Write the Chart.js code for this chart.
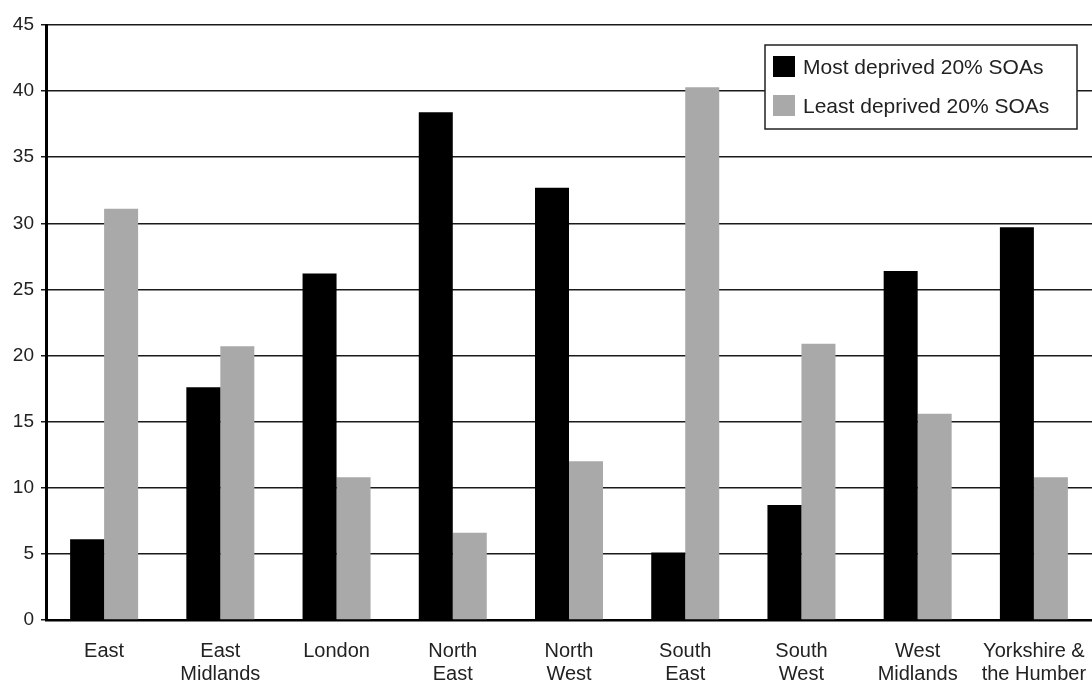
<!DOCTYPE html>
<html>
<head>
<meta charset="utf-8">
<script src="https://cdn.jsdelivr.net/npm/chart.js@4/dist/chart.umd.min.js"></script>
<style>
  html, body { margin: 0; padding: 0; background: #fff; overflow: hidden; }
  #wrap { width: 1092px; height: 684px; position: relative; }
</style>
</head>
<body>
<div id="wrap"><canvas id="chart"></canvas></div>
<script>
// regions, two lines each for the axis labels
const regions = [
    ["East"], ["East", "Midlands"], ["London"], ["North", "East"], ["North", "West"],
    ["South", "East"], ["South", "West"], ["West", "Midlands"], ["Yorkshire &", "the Humber"]
];
const mostDeprived = [6.1, 17.6, 26.2, 38.4, 32.7, 5.1, 8.7, 26.4, 29.7];
const leastDeprived = [31.1, 20.7, 10.8, 6.6, 12.0, 40.3, 20.9, 15.6, 10.8];
const seriesNames = ["Most deprived 20% SOAs", "Least deprived 20% SOAs"];

const FONT = "'Liberation Sans', Arial, sans-serif";

// legend box drawn inside the plot, top right
const boxLegend = {
    id: "boxLegend",
    afterDraw(chart) {
        const ctx = chart.ctx;
        const x = 765, y = 45, w = 312, h = 84;
        ctx.save();
        ctx.fillStyle = "#fff";
        ctx.fillRect(x, y, w, h);
        ctx.strokeStyle = "#222";
        ctx.lineWidth = 1.5;
        ctx.strokeRect(x, y, w, h);
        ctx.font = "21px " + FONT;
        ctx.textBaseline = "middle";
        chart.data.datasets.forEach((ds, i) => {
            const rowY = y + 22 + i * 39;
            ctx.fillStyle = ds.backgroundColor;
            ctx.fillRect(x + 8, rowY - 11, 22, 21);
            ctx.fillStyle = "#222";
            ctx.fillText(ds.label, x + 38, rowY + 1);
        });
        ctx.restore();
    }
};

new Chart(document.getElementById("chart"), {
    type: "bar",
    data: {
        labels: regions,
        datasets: [
            { label: seriesNames[0], data: mostDeprived, backgroundColor: "#000" },
            { label: seriesNames[1], data: leastDeprived, backgroundColor: "#a9a9a9" }
        ]
    },
    options: {
        responsive: true,
        maintainAspectRatio: false,
        animation: false,
        layout: { padding: { top: 25, right: 0, left: 0, bottom: 0 } },
        datasets: { bar: { categoryPercentage: 0.585, barPercentage: 1.0 } },
        plugins: {
            legend: { display: false },
            tooltip: { enabled: false }
        },
        scales: {
            x: {
                grid: { display: false, drawTicks: false },
                border: { display: true, color: "#000", width: 2.5 },
                ticks: {
                    color: "#222",
                    font: { family: FONT, size: 20, lineHeight: 1.15 },
                    padding: 20,
                    maxRotation: 0,
                    autoSkip: false
                },
                afterFit(scale) {
                    scale.height = 64;
                    scale.paddingLeft = 0;
                    scale.paddingRight = 0;
                }
            },
            y: {
                min: 0,
                max: 45,
                ticks: {
                    stepSize: 5,
                    color: "#222",
                    font: { family: FONT, size: 19 },
                    padding: 7
                },
                grid: { color: "#1a1a1a", lineWidth: 1.5, tickLength: 5 },
                border: { display: true, color: "#000", width: 3 },
                afterFit(scale) {
                    scale.width = 46;
                }
            }
        }
    },
    plugins: [boxLegend]
});
</script>
</body>
</html>
